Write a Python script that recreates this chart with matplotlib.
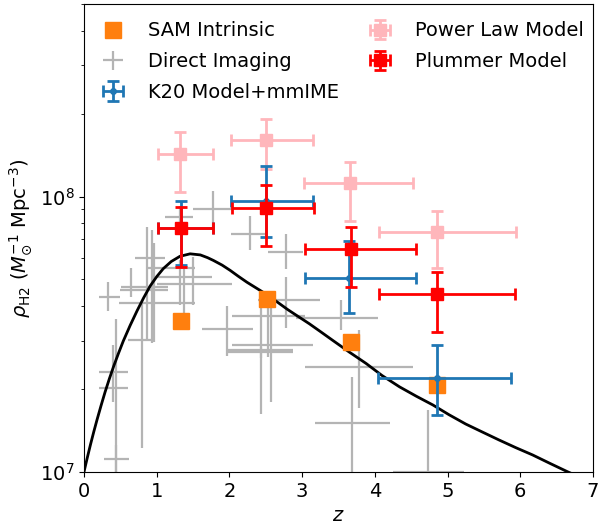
import numpy as np
import matplotlib.pyplot as plt

# units of 1e7 Msun Mpc^-3 for all densities below
scale = 1e7

# model curve
curve_z = [0.0, 0.045, 0.09, 0.135, 0.18, 0.235, 0.29, 0.35, 0.41, 0.475, 0.54,
           0.635, 0.73, 0.82, 0.91, 1.0, 1.09, 1.2, 1.32, 1.46, 1.6, 1.7, 1.78,
           1.9, 2.01, 2.12, 2.24, 2.35, 2.46, 2.58, 2.69, 2.8, 2.92, 3.1, 3.25,
           3.42, 3.65, 3.88, 4.1, 4.34, 4.57, 4.8, 5.02, 5.25, 5.48, 5.71, 5.94,
           6.17, 6.41, 6.65, 7.0]
curve_rho = [1.000, 1.125, 1.259, 1.400, 1.549, 1.742, 1.950, 2.183, 2.427, 2.698,
             2.985, 3.404, 3.846, 4.285, 4.732, 5.117, 5.470, 5.808, 6.067, 6.194,
             6.138, 5.998, 5.861, 5.636, 5.395, 5.140, 4.887, 4.688, 4.498, 4.285,
             4.083, 3.890, 3.707, 3.451, 3.236, 3.006, 2.723, 2.477, 2.239, 2.037,
             1.884, 1.750, 1.614, 1.493, 1.396, 1.306, 1.225, 1.153, 1.074, 1.002,
             0.912]

# SAM intrinsic
sam_z = [1.33, 2.52, 3.67, 4.86]
sam_rho = [3.52, 4.24, 2.96, 2.07]

# K20 model + mmIME
k20_z = [1.33, 2.50, 3.65, 4.86]
k20_zlo = [1.02, 2.02, 3.04, 4.05]
k20_zhi = [1.77, 3.15, 4.56, 5.87]
k20_rho = [7.66, 9.60, 5.07, 2.20]
k20_rlo = [5.63, 7.13, 3.79, 1.61]
k20_rhi = [9.60, 12.9, 6.89, 2.88]

# Plummer model
plu_z = [1.33, 2.50, 3.67, 4.86]
plu_zlo = [1.02, 2.04, 3.04, 4.06]
plu_zhi = [1.77, 3.16, 4.56, 5.93]
plu_rho = [7.66, 9.12, 6.46, 4.44]
plu_rlo = [5.55, 6.64, 4.69, 3.22]
plu_rhi = [9.13, 11.0, 7.74, 5.32]

# Power law model
pow_z = [1.32, 2.50, 3.66, 4.86]
pow_zlo = [1.02, 2.02, 3.03, 4.06]
pow_zhi = [1.77, 3.15, 4.53, 5.94]
pow_rho = [14.3, 16.0, 11.2, 7.43]
pow_rlo = [10.4, 12.6, 8.18, 5.48]
pow_rhi = [17.1, 19.1, 13.3, 8.85]

# Direct imaging
di_z = [0.337, 0.406, 0.443, 0.439, 0.796, 0.864, 0.645, 0.933, 1.503, 1.376,
        1.321, 0.960, 1.321, 1.778, 2.281, 2.785, 2.785, 3.539, 3.781, 3.690,
        4.737, 1.970, 2.432, 2.532, 2.579, 2.432]
di_zlo = [0.200, 0.200, 0.200, 0.269, 0.612, 0.704, 0.508, 0.475, 1.001, 1.001,
          0.886, 0.500, 1.115, 1.499, 2.021, 2.532, 2.395, 2.922, 3.036, 3.182,
          4.247, 1.619, 1.962, 2.030, 2.030, 1.962]
di_zhi = [0.498, 0.604, 0.604, 0.621, 0.978, 1.116, 1.160, 1.527, 2.030, 1.756,
          1.527, 1.150, 1.503, 2.034, 2.532, 3.012, 3.241, 4.041, 4.521, 4.202,
          5.231, 2.326, 2.875, 3.036, 3.150, 2.875]
di_rho = [4.30, 2.30, 2.02, 1.11, 3.01, 6.00, 4.69, 4.12, 4.80, 5.10,
          5.50, 4.57, 8.41, 9.02, 7.33, 6.28, 4.20, 3.61, 2.41, 1.50,
          1.00, 3.30, 2.78, 3.67, 2.90, 2.72]
di_rlo = [3.84, 1.80, 0.50, 0.95, 1.22, 3.01, 4.32, 2.93, 4.03, 3.77,
          4.03, 2.97, 7.70, 7.53, 6.37, 5.47, 3.32, 3.27, 1.70, 0.50,
          0.50, 2.64, 1.63, 2.62, 1.80, 2.60]
di_rhi = [4.89, 2.88, 3.58, 1.25, 4.10, 7.74, 5.48, 7.53, 6.03, 5.54,
          5.86, 6.76, 9.20, 10.5, 8.53, 7.34, 5.10, 4.20, 3.27, 2.21,
          1.68, 4.00, 3.97, 3.97, 3.97, 2.85]


def errs(x, lo, hi):
    x, lo, hi = np.array(x), np.array(lo), np.array(hi)
    return [x - lo, hi - x]


def rerrs(r, lo, hi):
    r, lo, hi = np.array(r) * scale, np.array(lo) * scale, np.array(hi) * scale
    return r, [r - lo, hi - r]


plt.rcParams['font.size'] = 14

fig = plt.figure(figsize=(6.05, 5.25), dpi=100)
ax = fig.add_axes([0.1388, 0.1010, 0.8413, 0.8914])

# direct imaging
r, re = rerrs(di_rho, di_rlo, di_rhi)
ax.errorbar(di_z, r, xerr=errs(di_z, di_zlo, di_zhi), yerr=re, fmt='none',
            ecolor='#b4b4b4', elinewidth=1.6, capsize=0, zorder=1,
            label='Direct Imaging')

ax.plot(curve_z, np.array(curve_rho) * scale, color='black', lw=2, zorder=2)

ax.plot(sam_z, np.array(sam_rho) * scale, 's', color='tab:orange', ms=11,
        zorder=3, label='SAM Intrinsic')

r, re = rerrs(pow_rho, pow_rlo, pow_rhi)
ax.errorbar(pow_z, r, xerr=errs(pow_z, pow_zlo, pow_zhi), yerr=re, fmt='s',
            color='#ffb6bb', ms=8, elinewidth=2, capsize=4, capthick=2,
            zorder=4, label='Power Law Model')

r, re = rerrs(k20_rho, k20_rlo, k20_rhi)
ax.errorbar(k20_z, r, xerr=errs(k20_z, k20_zlo, k20_zhi), yerr=re, fmt='.',
            color='tab:blue', ms=8, elinewidth=2, capsize=4, capthick=2,
            zorder=5, label='K20 Model+mmIME')

r, re = rerrs(plu_rho, plu_rlo, plu_rhi)
ax.errorbar(plu_z, r, xerr=errs(plu_z, plu_zlo, plu_zhi), yerr=re, fmt='s',
            color='red', ms=8, elinewidth=2, capsize=4, capthick=2,
            zorder=6, label='Plummer Model')

ax.set_yscale('log')
ax.set_xlim(0, 7)
ax.set_ylim(1e7, 5e8)
ax.set_xlabel(r'$z$')
ax.set_ylabel(r'$\rho_{\rm H2}$ ($M_{\odot}^{-1}$ Mpc$^{-3}$)')

h, l = ax.get_legend_handles_labels()
order = ['SAM Intrinsic', 'Direct Imaging', 'K20 Model+mmIME',
         'Power Law Model', 'Plummer Model']
idx = [l.index(o) for o in order]
ax.legend([h[i] for i in idx], [l[i] for i in idx], ncol=2, loc='upper left',
          frameon=False, handlelength=1.2, handletextpad=1.2,
          columnspacing=1.5, labelspacing=0.6)

fig.savefig('out.png', dpi=100)
